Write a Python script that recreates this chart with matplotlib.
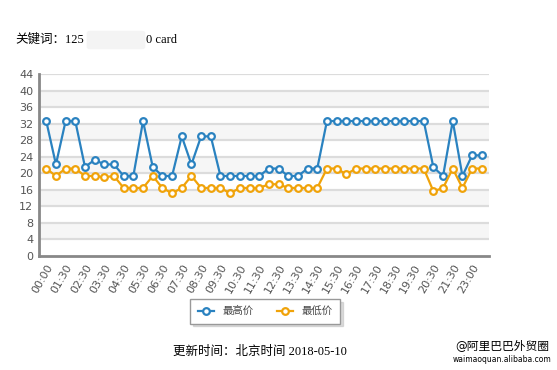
import matplotlib
matplotlib.use("Agg")
import matplotlib.pyplot as plt
from matplotlib.patches import FancyBboxPatch

plt.rcParams['font.family'] = ['DejaVu Sans', 'Noto Sans CJK SC']

# 时间点 (00:00, 01:00 ~ 22:00 每半小时, 23:00, 23:30)
times = ["00:00", "01:00", "01:30", "02:00", "02:30", "03:00", "03:30", "04:00", "04:30",
         "05:00", "05:30", "06:00", "06:30", "07:00", "07:30", "08:00", "08:30", "09:00",
         "09:30", "10:00", "10:30", "11:00", "11:30", "12:00", "12:30", "13:00", "13:30",
         "14:00", "14:30", "15:00", "15:30", "16:00", "16:30", "17:00", "17:30", "18:00",
         "18:30", "19:00", "19:30", "20:00", "20:30", "21:00", "21:30", "22:00", "23:00", "23:30"]

high_price = [32.6, 22.1, 32.6, 32.6, 21.5, 23.2, 22.1, 22.1, 19.3, 19.3, 32.6, 21.5,
              19.3, 19.3, 28.9, 22.1, 28.9, 28.9, 19.3, 19.3, 19.3, 19.3, 19.3, 21.1,
              21.1, 19.3, 19.3, 21.1, 21.1, 32.6, 32.6, 32.6, 32.6, 32.6, 32.6, 32.6,
              32.6, 32.6, 32.6, 32.6, 21.4, 19.3, 32.6, 19.3, 24.3, 24.3]
low_price = [21.1, 19.3, 21.1, 21.1, 19.3, 19.3, 19.0, 19.3, 16.4, 16.4, 16.4, 19.3,
             16.4, 15.1, 16.4, 19.3, 16.4, 16.4, 16.4, 15.1, 16.4, 16.4, 16.4, 17.3,
             17.3, 16.4, 16.4, 16.4, 16.4, 21.1, 21.1, 19.7, 21.1, 21.1, 21.1, 21.1,
             21.1, 21.1, 21.1, 21.1, 15.6, 16.4, 21.1, 16.4, 21.1, 21.1]

y_ticks = list(range(0, 45, 4))
legend_labels = ["最高价", "最低价"]

blue = "#2a82c0"
orange = "#f0a30a"

fig = plt.figure(figsize=(5.57, 3.70), dpi=100)
ax = fig.add_axes([0.070, 0.309, 0.808, 0.491])

x = list(range(len(times)))

# 背景条纹
for i in range(0, len(y_ticks) - 1):
    if i % 2 == 1:
        ax.axhspan(y_ticks[i], y_ticks[i + 1], color="#f6f6f6", zorder=0, lw=0)
for t in y_ticks[1:]:
    ax.axhline(t, color="#dcdcdc", lw=1.6, zorder=1)

ax.plot(x, high_price, color=blue, lw=1.6, marker="o", ms=4.8, mfc="white",
        mec=blue, mew=1.6, label=legend_labels[0], zorder=3)
ax.plot(x, low_price, color=orange, lw=1.6, marker="o", ms=4.8, mfc="white",
        mec=orange, mew=1.6, label=legend_labels[1], zorder=3)

ax.set_xlim(-0.75, len(times) - 0.25)
ax.set_ylim(0, 44)
ax.set_yticks(y_ticks)
ax.set_xticks(x[::2])
ax.set_xticklabels(times[::2], rotation=60, ha="right", rotation_mode="anchor")
ax.tick_params(length=0, labelsize=8, colors="#555555", pad=4)
ax.tick_params(axis="x", pad=5)

for s in ["top", "right"]:
    ax.spines[s].set_visible(False)
for s in ["left", "bottom"]:
    ax.spines[s].set_color("#888888")
    ax.spines[s].set_linewidth(2)

leg = ax.legend(loc="center", bbox_to_anchor=(0.476, 0.159), bbox_transform=fig.transFigure,
                ncol=2, frameon=True, fancybox=False,
                shadow={"color": "#bbbbbb", "ox": 2, "oy": -2},
                handlelength=1.6, columnspacing=2.2, borderpad=0.7,
                prop={"family": ["DejaVu Sans", "Noto Sans CJK SC"], "size": 7.5})
leg.get_frame().set_edgecolor("#999999")
for t in leg.get_texts():
    t.set_color("#444444")

serif = ["Liberation Serif", "Noto Sans CJK SC"]
fig.text(15 / 557, 1 - 40 / 370, "关键词：125", fontsize=9, family=serif, va="center")
# 打码区域
fig.patches.append(FancyBboxPatch((90 / 557, 1 - 47 / 370), 52 / 557, 14 / 370,
                                  boxstyle="round,pad=0.006", transform=fig.transFigure,
                                  fc="#f4f4f4", ec="none"))
fig.text(146 / 557, 1 - 40 / 370, "0 card", fontsize=9, family=serif, va="center")

fig.text(260 / 557, 1 - 352 / 370, "更新时间：北京时间 2018-05-10", fontsize=9,
         family=serif, ha="center", va="center")

fig.text(502 / 557, 1 - 346 / 370, "@阿里巴巴外贸圈", fontsize=8.5, ha="center", va="center",
         family=["DejaVu Sans", "Noto Sans CJK SC"])
fig.text(502 / 557, 1 - 359 / 370, "waimaoquan.alibaba.com", fontsize=5.5, ha="center",
         va="center")

fig.savefig("out.png", dpi=100)
